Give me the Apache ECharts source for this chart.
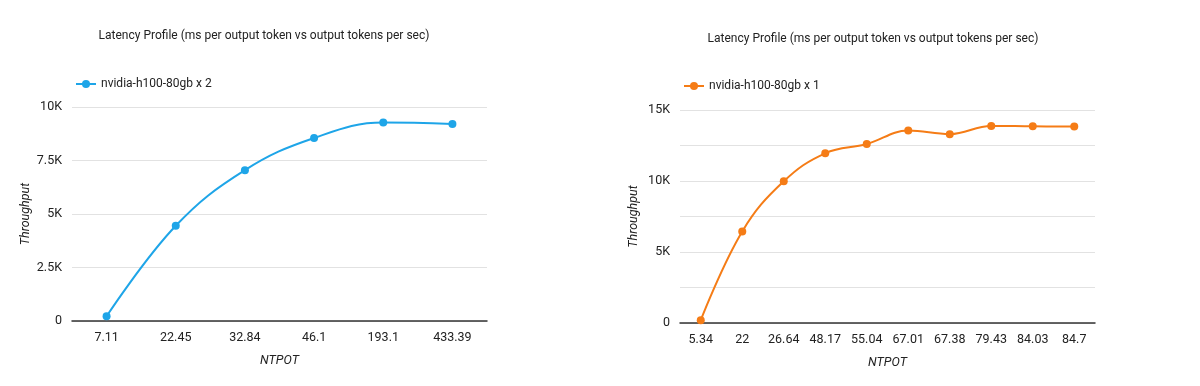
<!DOCTYPE html>
<html>
<head>
<meta charset="utf-8">
<script src="https://cdn.jsdelivr.net/npm/echarts@6/dist/echarts.min.js"></script>
<style>html,body{margin:0;padding:0;background:#fff;}#c{width:1200px;height:386px;}</style>
</head>
<body>
<div id="c"></div>
<script>
const titleText = 'Latency Profile (ms per output token vs output tokens per sec)';
const leftCategories = ['7.11', '22.45', '32.84', '46.1', '193.1', '433.39'];
const leftValues = [220, 4450, 7050, 8550, 9270, 9200];
const leftSeriesName = 'nvidia-h100-80gb x 2';
const rightCategories = ['5.34', '22', '26.64', '48.17', '55.04', '67.01', '67.38', '79.43', '84.03', '84.7'];
const rightValues = [200, 6450, 9980, 11950, 12600, 13550, 13300, 13880, 13850, 13840];
const rightSeriesName = 'nvidia-h100-80gb x 1';

const font = 'Roboto, "Noto Sans", sans-serif';
const chart = echarts.init(document.getElementById('c'), null, {renderer: 'canvas'});

function kfmt(v) {
  if (v === 0) return '0';
  return (v / 1000) + 'K';
}

function xAxis(gridIndex, cats) {
  return {
    type: 'category', gridIndex: gridIndex, data: cats, boundaryGap: true,
    name: 'NTPOT', nameLocation: 'middle', nameGap: 33,
    nameTextStyle: {fontFamily: font, fontSize: 12.5, fontStyle: 'italic', color: '#222'},
    axisLine: {show: true, lineStyle: {color: '#333', width: 1.5}},
    axisTick: {show: false},
    axisLabel: {fontFamily: font, fontSize: 12.5, color: '#222', margin: 10, interval: 0}
  };
}
function yAxis(gridIndex, max, labelEvery) {
  return {
    type: 'value', gridIndex: gridIndex, min: 0, max: max, interval: 2500,
    name: 'Throughput', nameLocation: 'middle', nameGap: 40,
    nameTextStyle: {fontFamily: font, fontSize: 12.5, fontStyle: 'italic', color: '#222'},
    axisLine: {show: false}, axisTick: {show: false},
    splitLine: {lineStyle: {color: '#e2e2e2', width: 1}},
    axisLabel: {fontFamily: font, fontSize: 12.5, color: '#222', margin: 10,
      formatter: function (v) { return (v % labelEvery === 0) ? kfmt(v) : ''; }}
  };
}

chart.setOption({
  animation: false,
  backgroundColor: '#fff',
  title: [
    {text: titleText, left: 259, top: 25, textAlign: 'center',
      textStyle: {fontFamily: font, fontSize: 12, fontWeight: 'normal', color: '#222'}},
    {text: titleText, left: 868, top: 28, textAlign: 'center',
      textStyle: {fontFamily: font, fontSize: 12, fontWeight: 'normal', color: '#222'}}
  ],
  legend: [
    {data: [leftSeriesName], left: 70, top: 73, itemWidth: 20, itemHeight: 10, itemGap: 8,
      textStyle: {fontFamily: font, fontSize: 12, color: '#222'}},
    {data: [rightSeriesName], left: 678, top: 75, itemWidth: 20, itemHeight: 10, itemGap: 8,
      textStyle: {fontFamily: font, fontSize: 12, color: '#222'}}
  ],
  grid: [
    {left: 72, right: 713, top: 107, bottom: 65},
    {left: 680, right: 105, top: 110, bottom: 63}
  ],
  xAxis: [xAxis(0, leftCategories), xAxis(1, rightCategories)],
  yAxis: [yAxis(0, 10000, 2500), yAxis(1, 15000, 5000)],
  series: [
    {name: leftSeriesName, type: 'line', xAxisIndex: 0, yAxisIndex: 0, data: leftValues,
      smooth: 0.4, symbol: 'circle', symbolSize: 8, showAllSymbol: true,
      itemStyle: {color: '#1ea5e8'}, lineStyle: {color: '#1ea5e8', width: 2}},
    {name: rightSeriesName, type: 'line', xAxisIndex: 1, yAxisIndex: 1, data: rightValues,
      smooth: 0.4, symbol: 'circle', symbolSize: 8, showAllSymbol: true,
      itemStyle: {color: '#f57c16'}, lineStyle: {color: '#f57c16', width: 2}}
  ]
});
</script>
</body>
</html>
